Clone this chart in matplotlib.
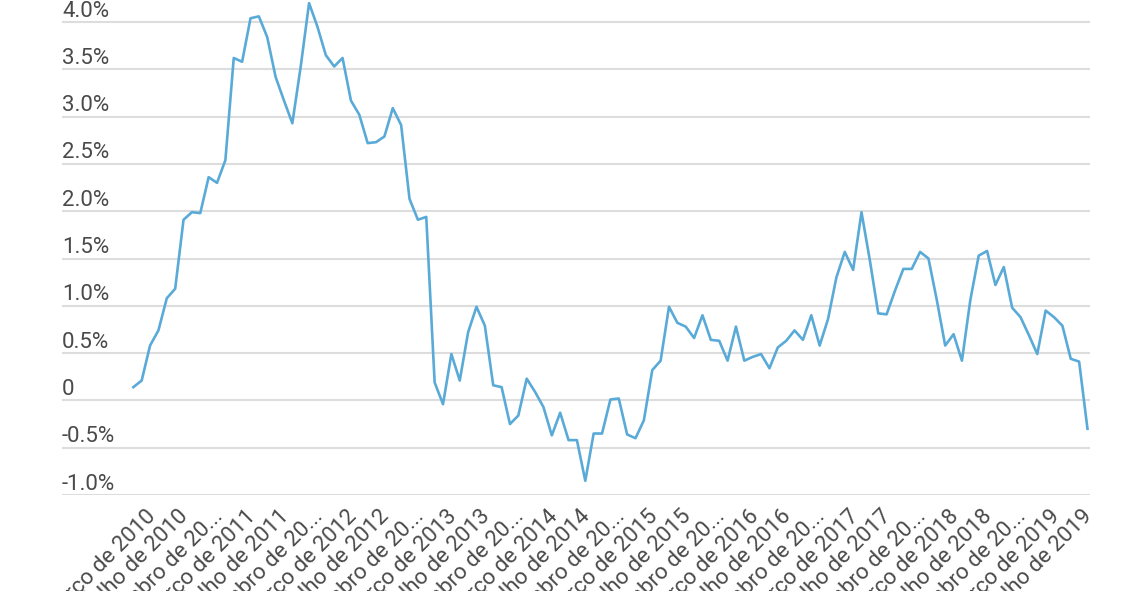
import matplotlib
matplotlib.use("Agg")
import matplotlib.pyplot as plt
import matplotlib.transforms as mtransforms
import numpy as np

# ---- data ----
months = ["março", "abril", "maio", "junho", "julho", "agosto", "setembro",
          "outubro", "novembro", "dezembro", "janeiro", "fevereiro"]
start_year = 2010
values = [0.14, 0.21, 0.58, 0.74, 1.08, 1.18, 1.91, 1.99, 1.98, 2.36,
          2.30, 2.54, 3.62, 3.58, 4.04, 4.06, 3.84, 3.42, 3.17, 2.93,
          3.53, 4.20, 3.95, 3.65, 3.53, 3.62, 3.17, 3.02, 2.72, 2.73,
          2.79, 3.09, 2.91, 2.13, 1.91, 1.94, 0.19, -0.04, 0.49, 0.21,
          0.72, 0.99, 0.79, 0.16, 0.14, -0.25, -0.16, 0.23, 0.09, -0.07,
          -0.37, -0.13, -0.42, -0.42, -0.85, -0.35, -0.35, 0.01, 0.02, -0.36,
          -0.40, -0.21, 0.32, 0.42, 0.99, 0.82, 0.78, 0.66, 0.90, 0.64,
          0.63, 0.42, 0.78, 0.42, 0.46, 0.49, 0.34, 0.56, 0.63, 0.74,
          0.64, 0.90, 0.58, 0.86, 1.30, 1.57, 1.38, 1.99, 1.48, 0.92,
          0.91, 1.16, 1.39, 1.39, 1.57, 1.50, 1.06, 0.58, 0.70, 0.42,
          1.06, 1.53, 1.58, 1.22, 1.41, 0.98, 0.88, 0.69, 0.49, 0.95,
          0.88, 0.79, 0.44, 0.41, -0.30]
ytick_values = [4.0, 3.5, 3.0, 2.5, 2.0, 1.5, 1.0, 0.5, 0.0, -0.5, -1.0]
ytick_labels = ["4.0%", "3.5%", "3.0%", "2.5%", "2.0%", "1.5%", "1.0%",
                "0.5%", "0", "-0.5%", "-1.0%"]

# category labels (month de year), truncated like the original
cat_labels = []
for i in range(len(values)):
    m = months[i % 12]
    y = start_year + (i + 2) // 12
    cat_labels.append(f"{m} de {y}")

def trunc(s, n=15):
    return s if len(s) <= n else s[:14] + "..."

tick_idx = list(range(0, len(values), 4))
tick_lbls = [trunc(cat_labels[i]) for i in tick_idx]

# ---- figure ----
plt.rcParams['font.family'] = ['Roboto', 'DejaVu Sans']
W, H = 1128, 591
fig = plt.figure(figsize=(W / 100, H / 100), dpi=100)
ax = fig.add_axes([62 / W, (H - 495) / H, (1090 - 62) / W, 495 / H])

x = np.arange(len(values))
text_color = "#4a4a4a"
grid_color = "#dddddd"

for v in ytick_values:
    ax.axhline(v, color=grid_color, lw=1.5, zorder=1)

ax.plot(x, values, color="#5aaad8", lw=1.9, zorder=3, clip_on=False,
        solid_joinstyle="round")

ax.set_xlim(-8.52, 114.3)
ax.set_ylim(-1.0, 4.233)
ax.set_yticks([])
for s in ax.spines.values():
    s.set_visible(False)

# y labels above gridlines
trans = mtransforms.blended_transform_factory(ax.transAxes, ax.transData)
trans = trans + mtransforms.ScaledTranslation(0, 0.055, fig.dpi_scale_trans)
for v, lab in zip(ytick_values, ytick_labels):
    ax.text(0.0, v, lab, transform=trans, ha="left", va="baseline",
            fontsize=16, color=text_color)

ax.set_xticks(tick_idx)
ax.set_xticklabels(tick_lbls, rotation=45, ha="right",
                   rotation_mode="anchor", fontsize=16, color=text_color)
ax.tick_params(axis="x", length=0, pad=8)
off = mtransforms.ScaledTranslation(0.12, 0, fig.dpi_scale_trans)
for lbl in ax.get_xticklabels():
    lbl.set_transform(lbl.get_transform() + off)

fig.savefig("out.png", dpi=100, facecolor="white")
